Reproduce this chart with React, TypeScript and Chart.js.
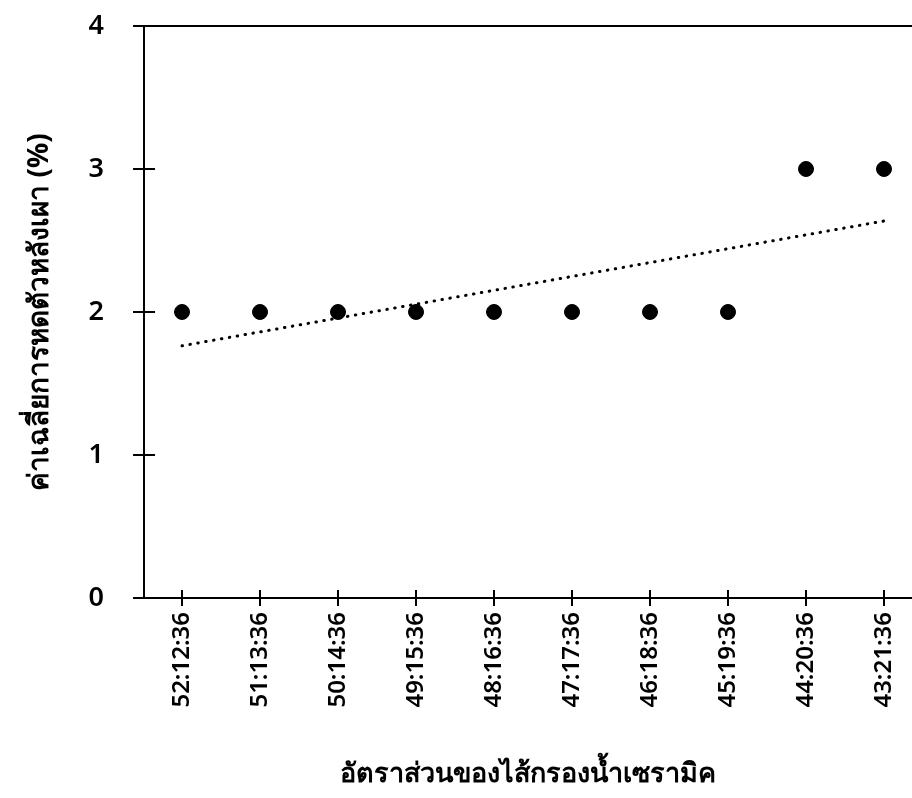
import React, { useEffect, useRef } from "react";
import { Chart, registerables } from "chart.js";

Chart.register(...registerables);

const categories = [
  "52:12:36",
  "51:13:36",
  "50:14:36",
  "49:15:36",
  "48:16:36",
  "47:17:36",
  "46:18:36",
  "45:19:36",
  "44:20:36",
  "43:21:36",
];
const shrinkage = [2, 2, 2, 2, 2, 2, 2, 2, 3, 3];
const yTicks = [0, 1, 2, 3, 4];
const xTitle = "อัตราส่วนของไส้กรองน้ำเซรามิค";
const yTitle = "ค่าเฉลี่ยการหดตัวหลังเผา (%)";

function linearFit(ys: number[]) {
  const n = ys.length;
  const xs = ys.map((_, i) => i);
  const mx = xs.reduce((a, b) => a + b, 0) / n;
  const my = ys.reduce((a, b) => a + b, 0) / n;
  let sxy = 0;
  let sxx = 0;
  for (let i = 0; i < n; i++) {
    sxy += (xs[i] - mx) * (ys[i] - my);
    sxx += (xs[i] - mx) * (xs[i] - mx);
  }
  const slope = sxy / sxx;
  const intercept = my - slope * mx;
  return { slope, intercept };
}

const crossTicks = {
  id: "crossTicks",
  afterDraw(chart: any) {
    const { ctx, chartArea } = chart;
    const xs = chart.scales.x;
    const ys = chart.scales.y;
    ctx.save();
    ctx.strokeStyle = "#000";
    ctx.lineWidth = 2;
    ctx.beginPath();
    categories.forEach((_, i) => {
      const px = Math.round(xs.getPixelForValue(i));
      ctx.moveTo(px, chartArea.bottom - 8);
      ctx.lineTo(px, chartArea.bottom + 8);
    });
    yTicks.forEach((v) => {
      const py = Math.round(ys.getPixelForValue(v));
      ctx.moveTo(chartArea.left - 11, py);
      ctx.lineTo(chartArea.left + 11, py);
    });
    ctx.stroke();
    ctx.restore();
  },
};

export default function App() {
  const ref = useRef<HTMLCanvasElement | null>(null);

  useEffect(() => {
    document.body.style.margin = "0";
    const fit = linearFit(shrinkage);
    const last = categories.length - 1;
    const font = "'Noto Sans', 'DejaVu Sans', sans-serif";
    const chart = new Chart(ref.current as HTMLCanvasElement, {
      type: "scatter",
      data: {
        datasets: [
          {
            type: "scatter",
            data: shrinkage.map((v, i) => ({ x: i, y: v })),
            backgroundColor: "#000",
            borderColor: "#000",
            pointRadius: 7.5,
            pointHoverRadius: 7.5,
          },
          {
            type: "line",
            data: [
              { x: 0, y: fit.intercept },
              { x: last, y: fit.intercept + fit.slope * last },
            ],
            borderColor: "#000",
            borderWidth: 3,
            borderDash: [0.5, 7.5],
            borderCapStyle: "round",
            pointRadius: 0,
            fill: false,
          } as any,
        ],
      },
      options: {
        animation: false,
        responsive: false,
        maintainAspectRatio: false,
        layout: {
          autoPadding: false,
          padding: { top: 26, right: 0, left: 8, bottom: 6 },
        },
        plugins: {
          legend: { display: false },
          tooltip: { enabled: false },
        },
        scales: {
          x: {
            type: "linear",
            min: -0.487,
            max: 9.359,
            afterBuildTicks: (scale: any) => {
              scale.ticks = categories.map((_, i) => ({ value: i }));
            },
            afterFit: (scale: any) => {
              scale.paddingRight = 0;
            },
            grid: {
              display: true,
              drawOnChartArea: false,
              color: "transparent",
              tickColor: "transparent",
              tickLength: 8,
            },
            border: { display: true, color: "#000", width: 2 },
            ticks: {
              autoSkip: false,
              minRotation: 90,
              maxRotation: 90,
              padding: 6,
              color: "#000",
              font: { family: font, size: 24, weight: "600" },
              callback: (v: any) => categories[Math.round(Number(v))],
            },
            title: {
              display: true,
              text: xTitle,
              color: "#000",
              font: { family: font, size: 27, weight: "bold" },
              padding: { top: 45, bottom: 1 },
            },
          },
          y: {
            type: "linear",
            min: 0,
            max: 4,
            afterBuildTicks: (scale: any) => {
              scale.ticks = yTicks.map((v) => ({ value: v }));
            },
            grid: {
              display: true,
              color: (c: any) => (c.tick && c.tick.value === 4 ? "#000" : "transparent"),
              tickColor: "transparent",
              lineWidth: 2,
              tickLength: 38,
            },
            border: { display: true, color: "#000", width: 2 },
            ticks: {
              padding: 2,
              color: "#000",
              font: { family: font, size: 27, weight: "600" },
            },
            title: {
              display: true,
              text: yTitle,
              color: "#000",
              font: { family: font, size: 28, weight: "bold" },
              padding: { top: 15, bottom: 30 },
            },
          },
        },
      },
      plugins: [crossTicks],
    } as any);
    return () => chart.destroy();
  }, []);

  return (
    <div>
      <canvas ref={ref} width={912} height={798} style={{ display: "block" }} />
    </div>
  );
}
